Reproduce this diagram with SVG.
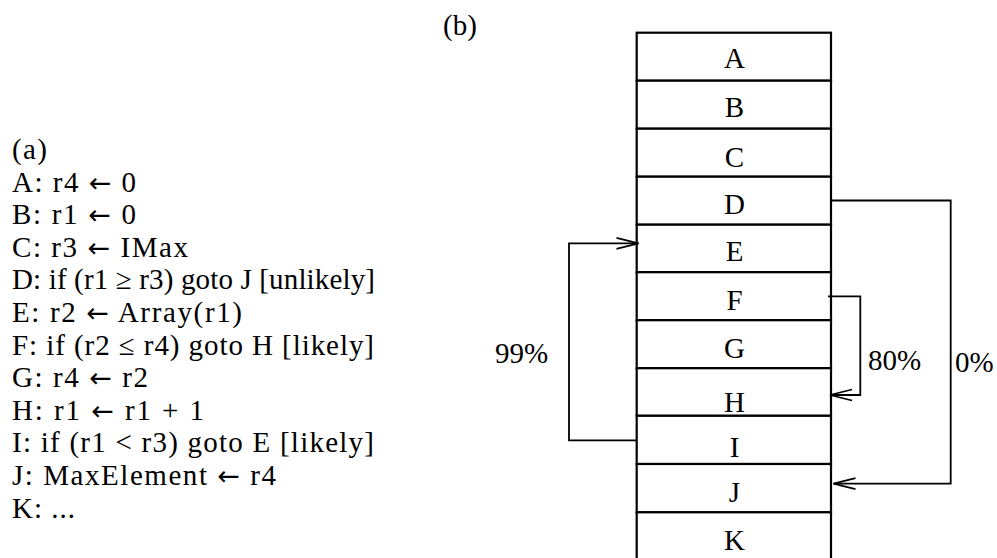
<svg xmlns="http://www.w3.org/2000/svg" width="997" height="558" viewBox="0 0 997 558" font-family="'Liberation Serif', 'Times New Roman', 'DejaVu Serif', serif">
<style>
text{font-family:'Liberation Serif','Times New Roman','DejaVu Serif',serif;font-size:29px;fill:#000}
.ar{font-family:'DejaVu Sans','Liberation Sans',sans-serif;font-size:27px}
.lbl{text-anchor:middle}
.row{fill:#fff;stroke:#000;stroke-width:2.2}
.con{fill:none;stroke:#000;stroke-width:1.8}
</style>
<defs>
<marker id="ah" markerUnits="userSpaceOnUse" viewBox="-24 -8 26 16" refX="0" refY="0" markerWidth="26" markerHeight="16" orient="auto">
<path d="M-22,-5.5 L0,0 L-22,5.5" fill="none" stroke="#000" stroke-width="1.8"/>
</marker>
</defs>
<rect width="997" height="558" fill="#fff"/>
<g id="code">
<text x="12" y="159" textLength="35" lengthAdjust="spacing">(a)</text>
<text x="12" y="191.6" textLength="124" lengthAdjust="spacing">A: r4 <tspan class="ar">←</tspan> 0</text>
<text x="12" y="224.2" textLength="124" lengthAdjust="spacing">B: r1 <tspan class="ar">←</tspan> 0</text>
<text x="12" y="256.8" textLength="176" lengthAdjust="spacing">C: r3 <tspan class="ar">←</tspan> IMax</text>
<text x="12" y="289.4" textLength="363" lengthAdjust="spacing">D: if (r1 ≥ r3) goto J [unlikely]</text>
<text x="12" y="322" textLength="230" lengthAdjust="spacing">E: r2 <tspan class="ar">←</tspan> Array(r1)</text>
<text x="12" y="354.6" textLength="362" lengthAdjust="spacing">F: if (r2 ≤ r4) goto H [likely]</text>
<text x="12" y="387.2" textLength="136" lengthAdjust="spacing">G: r4 <tspan class="ar">←</tspan> r2</text>
<text x="12" y="419.8" textLength="192" lengthAdjust="spacing">H: r1 <tspan class="ar">←</tspan> r1 + 1</text>
<text x="12" y="452.4" textLength="362" lengthAdjust="spacing">I: if (r1 &lt; r3) goto E [likely]</text>
<text x="12" y="485" textLength="264" lengthAdjust="spacing">J: MaxElement <tspan class="ar">←</tspan> r4</text>
<text x="12" y="517.6" textLength="63" lengthAdjust="spacing">K: ...</text>
</g>
<text x="460" y="35" class="lbl">(b)</text>
<g id="A"><rect class="row" x="636.7" y="32.7" width="194.3" height="48"/><text class="lbl" x="734.5" y="68">A</text></g>
<g id="B"><rect class="row" x="636.7" y="80.7" width="194.3" height="48"/><text class="lbl" x="734.5" y="116.5">B</text></g>
<g id="C"><rect class="row" x="636.7" y="128.7" width="194.3" height="48"/><text class="lbl" x="734.5" y="166.5">C</text></g>
<g id="D"><rect class="row" x="636.7" y="176.7" width="194.3" height="48"/><text class="lbl" x="734.5" y="214">D</text></g>
<g id="E"><rect class="row" x="636.7" y="224.7" width="194.3" height="47.5"/><text class="lbl" x="734.5" y="260.5">E</text></g>
<g id="F"><rect class="row" x="636.7" y="272.2" width="194.3" height="48"/><text class="lbl" x="734.5" y="310">F</text></g>
<g id="G"><rect class="row" x="636.7" y="320.2" width="194.3" height="48"/><text class="lbl" x="734.5" y="358">G</text></g>
<g id="H"><rect class="row" x="636.7" y="368.2" width="194.3" height="47.6"/><text class="lbl" x="734.5" y="411.5">H</text></g>
<g id="I"><rect class="row" x="636.7" y="415.8" width="194.3" height="48.2"/><text class="lbl" x="734.5" y="456.5">I</text></g>
<g id="J"><rect class="row" x="636.7" y="464" width="194.3" height="48.3"/><text class="lbl" x="734.5" y="502">J</text></g>
<g id="K"><rect class="row" x="636.7" y="512.3" width="194.3" height="50"/><text class="lbl" x="734.5" y="550">K</text></g>
<g id="connectors">
<path class="con" d="M636.7,440.3 H569 V243.3 H638.5" marker-end="url(#ah)"/>
<path class="con" d="M828,296.3 H860.3 V395 H830" marker-end="url(#ah)"/>
<path class="con" d="M831,200.5 H950.7 V483.7 H833.5" marker-end="url(#ah)"/>
<text x="495" y="363">99%</text>
<text x="868" y="370">80%</text>
<text x="955" y="372">0%</text>
</g>
</svg>
